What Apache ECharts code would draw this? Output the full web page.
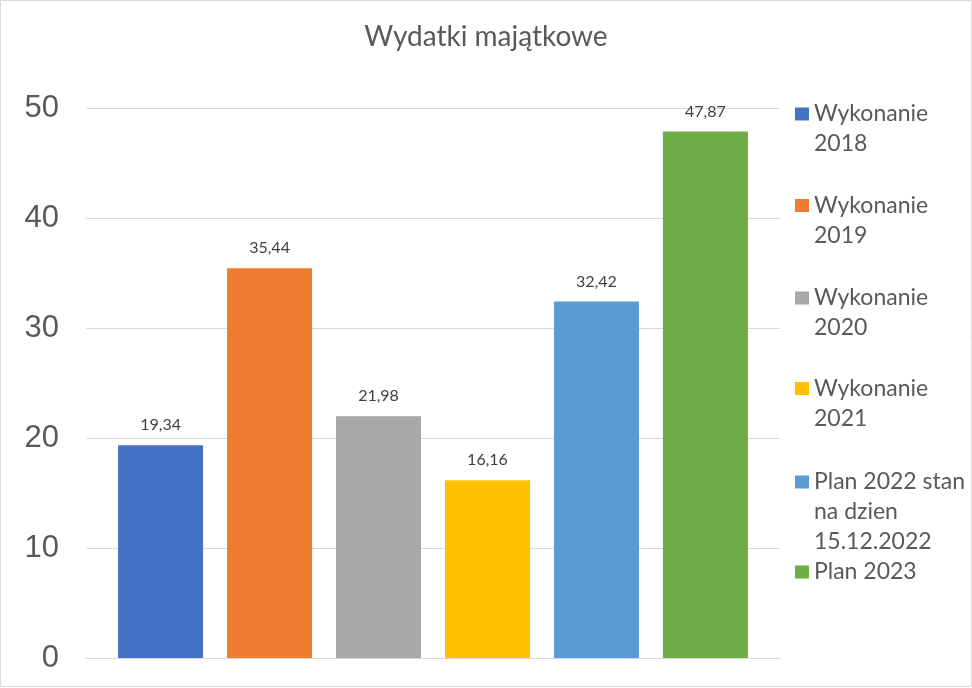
<!DOCTYPE html>
<html>
<head>
<meta charset="utf-8">
<script src="https://cdn.jsdelivr.net/npm/echarts@6/dist/echarts.min.js"></script>
<style>html,body{margin:0;padding:0;background:#fff}#c{width:972px;height:688px}</style>
</head>
<body>
<div id="c"></div>
<script>
var titleText = 'Wydatki majątkowe';
var seriesNames = ['Wykonanie 2018', 'Wykonanie 2019', 'Wykonanie 2020', 'Wykonanie 2021', 'Plan 2022 stan na dzien 15.12.2022', 'Plan 2023'];
var legendLines = [['Wykonanie', '2018'], ['Wykonanie', '2019'], ['Wykonanie', '2020'], ['Wykonanie', '2021'], ['Plan 2022 stan', 'na dzien', '15.12.2022'], ['Plan 2023']];
var values = [19.34, 35.44, 21.98, 16.16, 32.42, 47.87];
var colors = ['#4472C4', '#ED7D31', '#A5A5A5', '#FFC000', '#5B9BD5', '#70AD47'];
var yTicks = { min: 0, max: 50, interval: 10 };
var legendCenters = [114, 205.5, 298, 388.5, 482, 572];

var chart = echarts.init(document.getElementById('c'));
var LH = 30;
var legends = seriesNames.map(function (name, i) {
  var n = legendLines[i].length;
  var P = (n - 1) * LH;
  var pad = '';
  for (var k = 0; k < n - 1; k++) pad += ' \n';
  return {
    data: [name],
    orient: 'vertical',
    left: 795,
    top: legendCenters[i] - P - LH / 2,
    padding: 0,
    itemWidth: 14,
    itemHeight: 13,
    icon: 'rect',
    selectedMode: false,
    formatter: function () { return pad + legendLines[i].join('\n'); },
    textStyle: {
      fontFamily: 'Lato',
      fontSize: 23,
      color: '#595959',
      lineHeight: LH
    }
  };
});

var series = seriesNames.map(function (name, i) {
  var s = {
    name: name,
    type: 'bar',
    data: [values[i]],
    barWidth: 85,
    barGap: '28.2%',
    itemStyle: { color: colors[i] },
    label: {
      show: true,
      position: 'top',
      distance: 12,
      fontFamily: 'Lato',
      fontSize: 16,
      color: '#404040',
      formatter: function (p) { return p.value.toFixed(2).replace('.', ','); }
    }
  };
  if (i === 2) {
    s.itemStyle.decal = {
      symbol: 'rect',
      symbolSize: 1,
      dashArrayX: [1, 1],
      dashArrayY: [1, 1],
      rotation: 0,
      color: 'rgba(190,190,190,0.45)'
    };
  }
  return s;
});

chart.setOption({
  animation: false,
  title: {
    text: titleText,
    left: 'center',
    top: 21,
    padding: 0,
    textStyle: { fontFamily: 'Lato', fontSize: 28, fontWeight: 'normal', color: '#595959', lineHeight: 32 }
  },
  legend: legends,
  grid: { left: 86, right: 192, top: 108, bottom: 30, containLabel: false },
  xAxis: {
    type: 'category',
    data: [''],
    axisLine: { lineStyle: { color: '#d9d9d9', width: 1 } },
    axisTick: { show: false },
    axisLabel: { show: false }
  },
  yAxis: {
    type: 'value',
    min: yTicks.min,
    max: yTicks.max,
    interval: yTicks.interval,
    axisLine: { show: false },
    axisTick: { show: false },
    axisLabel: { fontFamily: 'Liberation Sans', fontSize: 31, color: '#595959', margin: 27 },
    splitLine: { lineStyle: { color: '#d9d9d9', width: 1 } }
  },
  graphic: [{
    type: 'rect',
    shape: { x: 0.5, y: 0.5, width: 971, height: 686 },
    style: { fill: 'none', stroke: '#d9d9d9', lineWidth: 1 },
    silent: true
  }],
  series: series
});
</script>
</body>
</html>
